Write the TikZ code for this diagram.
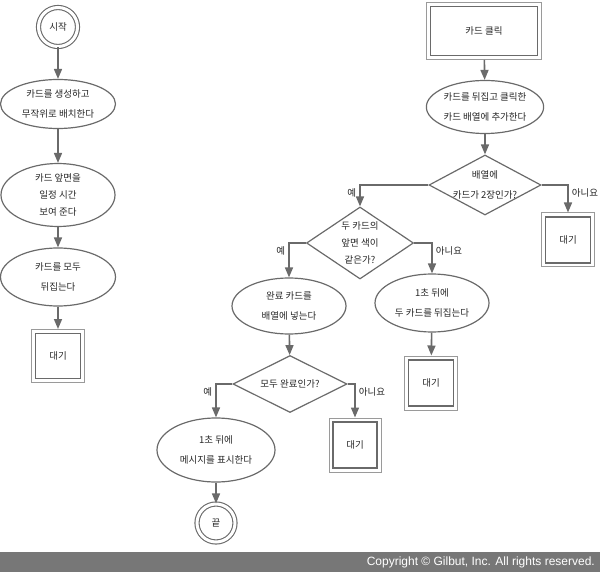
\documentclass[tikz,border=0pt]{standalone}
\usepackage{fontspec}
\setmainfont{Noto Sans CJK KR}
\newfontfamily\copyfont{Liberation Sans}
\usetikzlibrary{arrows.meta,shapes.geometric}

\definecolor{linegray}{HTML}{6A6A6A}
\definecolor{lightgray}{HTML}{9A9A9A}
\definecolor{bargray}{HTML}{777777}

\tikzset{
  every node/.style={font=\fontsize{9.5}{20}\selectfont, align=center, text=black!85},
  arr/.style={-{Triangle[width=8pt,length=10pt]}, line width=1.6pt, draw=linegray},
  blob/.style={ellipse, draw=linegray, line width=1.2pt, inner sep=0pt},
  dia/.style={diamond, draw=linegray, line width=1.2pt, inner sep=0pt},
  waitbox/.style={rectangle, preaction={draw=lightgray, line width=9pt},
    preaction={draw=white, line width=7pt}, fill=white, draw=linegray,
    line width=1.8pt, inner sep=0pt, outer sep=4.5pt},
  term/.style={circle, draw=linegray, line width=1.1pt, double=white,
    double distance=3pt, inner sep=0pt},
  yes/.style={anchor=north east, inner sep=3pt},
  no/.style={anchor=north west, inner sep=3pt}
}

\begin{document}
\begin{tikzpicture}[x=1pt,y=-1pt]
      \useasboundingbox (0,0) rectangle (600,572);

      % Nodes (left)
      \node[term, minimum size=39pt] (start) at (58,27) {시작};
      \node[blob, minimum width=115pt, minimum height=49pt] (make) at (58,104)
      {카드를 생성하고\\무작위로 배치한다};
      \node[blob, minimum width=114pt, minimum height=63pt] (show) at (58,195)
      {카드 앞면을\\[-3pt]일정 시간\\[-3pt]보여 준다};
      \node[blob, minimum width=115pt, minimum height=58pt] (flipall) at (58,277)
      {카드를 모두\\뒤집는다};
      \node[waitbox, minimum size=45pt] (waitA) at (58,356) {대기};

      % Arcs (left)
      \draw[arr] (start) -- (make);
      \draw[arr] (make) -- (show);
      \draw[arr] (show) -- (flipall);
      \draw[arr] (flipall) -- (waitA);

      % Nodes (right)
      \node[waitbox, minimum width=107pt, minimum height=49pt] (click) at (484,31) {카드 클릭};
      \node[blob, minimum width=116pt, minimum height=53pt] (pick) at (485,107)
      {카드를 뒤집고 클릭한\\카드 배열에 추가한다};
      \node[dia, minimum width=112pt, minimum height=60pt,
        label={[align=center]center:배열에\\카드가 2장인가?}] (two) at (485,185) {};
      \node[waitbox, minimum width=45pt, minimum height=46pt] (waitB) at (568,240) {대기};
      \node[dia, minimum width=107pt, minimum height=72pt,
        label={[align=center, font=\fontsize{9.5}{17}\selectfont]center:두 카드의\\앞면 색이\\같은가?}] (same) at (360,243) {};
      \node[blob, minimum width=114pt, minimum height=56pt] (keep) at (289,306)
      {완료 카드를\\배열에 넣는다};
      \node[blob, minimum width=114pt, minimum height=58pt] (undo) at (432,303)
      {1초 뒤에\\두 카드를 뒤집는다};
      \node[waitbox, minimum width=45pt, minimum height=46pt] (waitC) at (431,383) {대기};
      \node[dia, minimum width=114pt, minimum height=57pt,
        label={center:모두 완료인가?}] (done) at (290,384) {};
      \node[waitbox, minimum width=44pt, minimum height=46pt] (waitD) at (355,445) {대기};
      \node[blob, minimum width=118pt, minimum height=64pt] (msg) at (216,450)
      {1초 뒤에\\메시지를 표시한다};
      \node[term, minimum size=38pt] (stop) at (216,523) {끝};

      % Arcs (right)
      \draw[arr] (click) -- (pick);
      \draw[arr] (pick) -- (two);
      \draw[arr] (two.west) -| node[pos=0.5, yes]{예} (same.north);
      \draw[arr] (two.east) -| node[pos=0.5, no]{아니요} (waitB.north);
      \draw[arr] (same.west) -| node[pos=0.5, yes]{예} (keep.north);
      \draw[arr] (same.east) -| node[pos=0.5, no]{아니요} (undo.north);
      \draw[arr] (undo) -- (waitC);
      \draw[arr] (keep) -- (done);
      \draw[arr] (done.west) -| node[pos=0.5, yes]{예} (msg.north);
      \draw[arr] (done.east) -| node[pos=0.5, no]{아니요} (waitD.north);
      \draw[arr] (msg) -- (stop);

      % Footer
      \fill[bargray] (0,552) rectangle (600,572);
      \node[anchor=east, text=white, font=\copyfont\fontsize{12}{13}\selectfont,
        inner sep=0pt] (copy) at (595,562) {Copyright © Gilbut, Inc. All rights reserved.};
\end{tikzpicture}
\end{document}
